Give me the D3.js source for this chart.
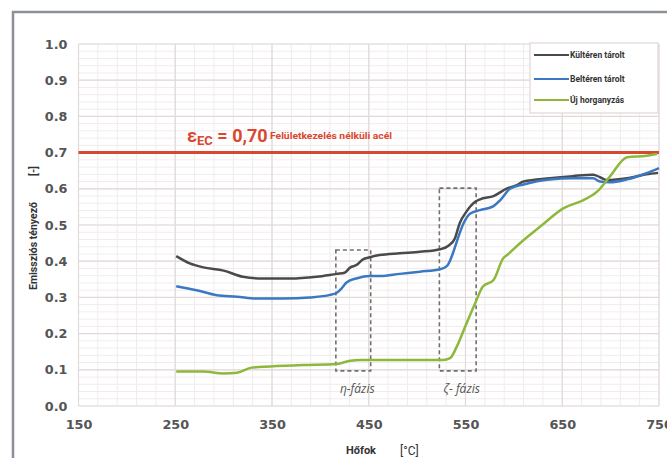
<!DOCTYPE html>
<html><head><meta charset="utf-8">
<script src="https://cdn.jsdelivr.net/npm/d3@7"></script>
<style>body{margin:0;background:#fff}svg{display:block}</style>
</head><body>
<svg id="c" width="667" height="458"></svg>
<script>
const xTicks = [150,250,350,450,550,650,750];
const yTicks = [0,0.1,0.2,0.3,0.4,0.5,0.6,0.7,0.8,0.9,1.0];
const seriesNames = ["Kültéren tárolt","Beltéren tárolt","Új horganyzás"];
const kulterenT = [251,265,279,300,320,341,369,396,417,425,431,437,444,451,461,482,503,524,532,539,544,551,560,565,579,593,603,610,637,661,682,689,696,717,737,749];
const kulterenE = [.414,.394,.383,.374,.357,.352,.352,.357,.365,.368,.383,.389,.405,.411,.417,.422,.426,.433,.442,.463,.505,.537,.564,.571,.580,.601,.610,.620,.629,.635,.639,.632,.624,.629,.640,.644];
const belterenT = [251,272,293,314,334,362,389,410,417,422,427,438,451,462,482,503,524,531,537,541,548,555,565,579,586,596,610,637,661,682,689,699,717,737,750];
const belterenE = [.331,.320,.306,.302,.297,.297,.300,.307,.313,.325,.341,.353,.359,.359,.365,.371,.378,.387,.422,.454,.505,.532,.541,.552,.569,.600,.612,.626,.629,.629,.620,.618,.626,.643,.657];
const ujT = [251,279,300,314,329,348,382,417,431,441,451,527,534,541,551,560,568,579,589,593,606,627,651,672,686,699,717,737,748];
const ujE = [.095,.095,.090,.092,.106,.109,.113,.116,.125,.127,.127,.127,.132,.164,.228,.284,.330,.348,.408,.417,.449,.495,.546,.569,.592,.633,.687,.691,.696];
const refValue = 0.70;
const phaseBoxes = [{label:"η-fázis", x0:416, x1:452, y0:0.097, y1:0.431},
                    {label:"ζ- fázis", x0:523, x1:561, y0:0.097, y1:0.602}];

const svg = d3.select("#c");
const x = d3.scaleLinear().domain([150,750]).range([78.5,659]);
const y = d3.scaleLinear().domain([0,1]).range([406,44]);

// frame
svg.append("path").attr("d","M13,458V12H667").attr("fill","none").attr("stroke","#8b9197").attr("stroke-width",2.5);

// minor grid
const g = svg.append("g");
g.selectAll(".mx").data(d3.range(150,751,20)).join("line")
 .attr("x1",d=>x(d)).attr("x2",d=>x(d)).attr("y1",y(0)).attr("y2",y(1))
 .attr("stroke","#f1ecec").attr("stroke-width",1);
g.selectAll(".my").data(d3.range(0,51,1).map(i=>i*0.02)).join("line")
 .attr("y1",d=>y(d)).attr("y2",d=>y(d)).attr("x1",x(150)).attr("x2",x(750))
 .attr("stroke","#f1ecec").attr("stroke-width",1);
// major grid
g.selectAll(".Mx").data(xTicks).join("line")
 .attr("x1",d=>x(d)).attr("x2",d=>x(d)).attr("y1",y(0)).attr("y2",y(1))
 .attr("stroke","#e2d9d9").attr("stroke-width",1.2);
g.selectAll(".My").data(yTicks).join("line")
 .attr("y1",d=>y(d)).attr("y2",d=>y(d)).attr("x1",x(150)).attr("x2",x(750))
 .attr("stroke","#e2d9d9").attr("stroke-width",1.2);

// axes labels
const xAxis = d3.axisBottom(x).tickValues(xTicks).tickSize(0).tickPadding(14).tickFormat(d3.format("d"));
const ax = svg.append("g").attr("transform",`translate(0,${y(0)})`).call(xAxis);
const yAxis = d3.axisLeft(y).tickValues(yTicks).tickSize(0).tickPadding(11).tickFormat(d3.format(".1f"));
const ay = svg.append("g").attr("transform",`translate(${x(150)},0)`).call(yAxis);
[ax,ay].forEach(a=>{a.select(".domain").remove();
 a.selectAll("text").attr("font-family","DejaVu Sans").attr("font-weight","bold").attr("font-size",12.8).attr("fill","#555");});

// reference line
svg.append("line").attr("x1",x(150)).attr("x2",x(750)).attr("y1",y(refValue)).attr("y2",y(refValue))
 .attr("stroke","#d9472f").attr("stroke-width",3);
const rt = svg.append("text").attr("x",187).attr("y",y(refValue)-11).attr("fill","#d9472f")
 .attr("font-family","Roboto").attr("font-weight","bold").attr("font-size",18);
rt.append("tspan").text("ε");
rt.append("tspan").text("EC").attr("font-size",13).attr("dy",3);
rt.append("tspan").text(" = 0,70").attr("dy",-3);
svg.append("text").attr("x",270).attr("y",y(refValue)-14).attr("fill","#d9472f")
 .attr("font-family","Roboto").attr("font-weight","bold").attr("font-size",8.5)
 .attr("textLength",122).attr("lengthAdjust","spacingAndGlyphs")
 .text("Felületkezelés nélküli acél");

// phase boxes
svg.selectAll(".pb").data(phaseBoxes).join("rect")
 .attr("x",d=>x(d.x0)).attr("y",d=>y(d.y1)).attr("width",d=>x(d.x1)-x(d.x0)).attr("height",d=>y(d.y0)-y(d.y1))
 .attr("fill","none").attr("stroke","#707070").attr("stroke-width",1.6).attr("stroke-dasharray","4,3");
svg.selectAll(".pl").data(phaseBoxes).join("text")
 .attr("x",d=>x((d.x0+d.x1)/2)+4).attr("y",393).attr("text-anchor","middle")
 .attr("font-family","Open Sans").attr("font-style","italic").attr("font-size",12).attr("fill","#555")
 .text(d=>d.label);

// series
const colors = ["#4a4a4a","#3b78c3","#8db83c"];
const data = [[kulterenT,kulterenE],[belterenT,belterenE],[ujT,ujE]];
const line = d3.line().x(d=>x(d[0])).y(d=>y(d[1])).curve(d3.curveMonotoneX);
data.forEach((s,i)=>{
  svg.append("path").datum(d3.zip(s[0],s[1])).attr("d",line)
   .attr("fill","none").attr("stroke",colors[i]).attr("stroke-width",2.5).attr("stroke-linejoin","round");
});

// legend
svg.append("rect").attr("x",530).attr("y",43).attr("width",128).attr("height",70)
 .attr("fill","#fff").attr("stroke","#e2d6d6").attr("stroke-width",1.2);
const ly = [55,79,100];
seriesNames.forEach((n,i)=>{
  svg.append("line").attr("x1",534).attr("x2",569).attr("y1",ly[i]).attr("y2",ly[i])
   .attr("stroke",colors[i]).attr("stroke-width",2);
  svg.append("text").attr("x",570).attr("y",ly[i]+3).attr("font-family","Roboto").attr("font-weight","bold")
   .attr("font-size",8.5).attr("fill","#333").text(n);
});

// axis titles
svg.append("text").attr("transform","translate(37,246) rotate(-90)").attr("text-anchor","middle")
 .attr("font-family","Roboto").attr("font-weight","bold").attr("font-size",10.5).attr("fill","#333").text("Emissziós tényező");
svg.append("text").attr("transform","translate(37,171) rotate(-90)").attr("text-anchor","middle")
 .attr("font-family","Roboto").attr("font-weight","bold").attr("font-size",10.5).attr("fill","#333").text("[-]");
svg.append("text").attr("x",346).attr("y",454).attr("font-family","Roboto").attr("font-weight","bold")
 .attr("font-size",11).attr("fill","#333").text("Hőfok");
svg.append("text").attr("x",400).attr("y",455).attr("font-family","Roboto")
 .attr("font-size",12).attr("fill","#333").text("[°C]");
</script>
</body></html>
